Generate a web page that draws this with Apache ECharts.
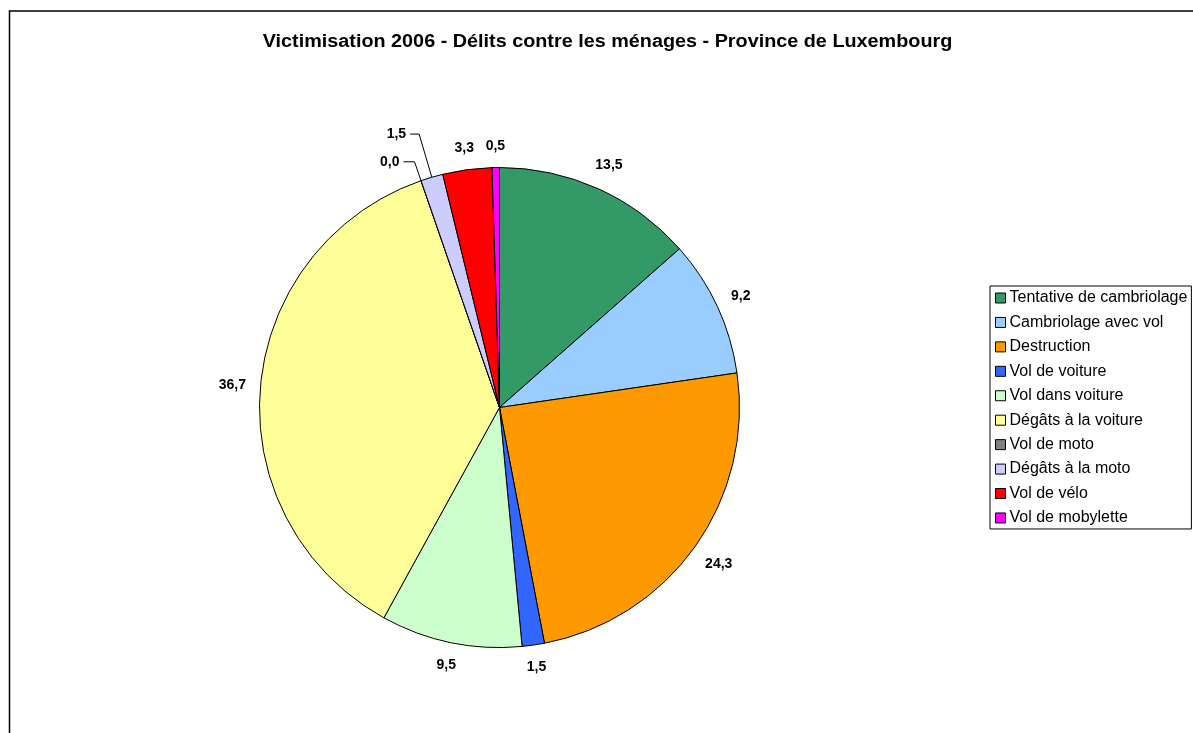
<!DOCTYPE html>
<html><head><meta charset="utf-8">
<script src="https://cdn.jsdelivr.net/npm/echarts@6/dist/echarts.min.js"></script>
<style>html,body{margin:0;padding:0;background:#fff}#c{width:1193px;height:733px}</style>
</head><body><div id="c"></div>
<script>
const chartTitle = 'Victimisation 2006 - Délits contre les ménages - Province de Luxembourg';
const categories = ['Tentative de cambriolage', 'Cambriolage avec vol', 'Destruction', 'Vol de voiture', 'Vol dans voiture', 'Dégâts à la voiture', 'Vol de moto', 'Dégâts à la moto', 'Vol de vélo', 'Vol de mobylette'];
const values = [13.5, 9.2, 24.3, 1.5, 9.5, 36.7, 0.0, 1.5, 3.3, 0.5];
const colors = ['#339966', '#99CCFF', '#FF9900', '#3366FF', '#CCFFCC', '#FFFF99', '#808080', '#CCCCFF', '#FF0000', '#FF00FF'];
// slices whose labels use a leader line: [index, length, length2]
const leaderLines = [[6, 20, 11], [7, 45, 9]];

const fmt = v => v.toFixed(1).replace('.', ',');
const leaderMap = {};
leaderLines.forEach(([i, l1, l2]) => { leaderMap[i] = [l1, l2]; });

const FONT = 'Liberation Sans, Arial, sans-serif';
const labelFont = { fontFamily: FONT, fontWeight: 'bold', fontSize: 14, color: '#000' };
const center = [499.5, 407.5];
const R = 240;
const GAP = 14;

const mainData = categories.map((name, i) => {
  const d = { name, value: values[i], itemStyle: { color: colors[i] } };
  if (leaderMap[i]) {
    d.label = { show: true };
    d.labelLine = { show: true, length: leaderMap[i][0], length2: leaderMap[i][1] };
  }
  return d;
});
const labelData = categories.map((name, i) => ({
  name, value: values[i],
  label: { show: !leaderMap[i] && values[i] > 0 }
}));

const chart = echarts.init(document.getElementById('c'), null, { renderer: 'canvas' });
chart.setOption({
  animation: false,
  backgroundColor: '#fff',
  color: colors,
  graphic: [{
    type: 'rect', silent: true, z: -10,
    shape: { x: 9.5, y: 11, width: 1400, height: 1000 },
    style: { fill: 'none', stroke: '#000', lineWidth: 1.5 }
  }, {
    type: 'text', silent: true, x: 607.5, y: 42, scaleX: 1.1,
    style: { text: chartTitle, align: 'center', verticalAlign: 'middle', fill: '#000', font: 'bold 18px ' + FONT }
  }],
  legend: {
    orient: 'vertical', left: 990, top: 286,
    padding: [3, 4, 2, 5],
    itemGap: 6.44, itemWidth: 10, itemHeight: 10,
    icon: 'rect',
    selectedMode: false,
    borderColor: '#000', borderWidth: 1, backgroundColor: '#fff',
    itemStyle: { borderColor: '#000', borderWidth: 1 },
    textStyle: { fontFamily: FONT, fontSize: 16, color: '#000', lineHeight: 18, padding: [0, 0, 0, -1] },
    data: categories
  },
  series: [{
    type: 'pie', name: 'main',
    center, radius: R, startAngle: 90, clockwise: true,
    avoidLabelOverlap: false, silent: true,
    itemStyle: { borderColor: '#000', borderWidth: 1 },
    label: Object.assign({ show: false, position: 'outside', distanceToLabelLine: 4, formatter: p => fmt(p.value) }, labelFont),
    labelLine: { show: false, lineStyle: { color: '#000', width: 1 }, smooth: false },
    emphasis: { disabled: true },
    data: mainData
  }, {
    type: 'pie', name: 'labels',
    center, radius: [0, 520], startAngle: 90, clockwise: true,
    avoidLabelOverlap: false, silent: true, z: 3,
    itemStyle: { color: 'rgba(0,0,0,0)', borderWidth: 0 },
    label: Object.assign({ position: 'inside', padding: [0, 3], formatter: p => fmt(p.value) }, labelFont),
    labelLine: { show: false },
    labelLayout: function (p) {
      const r = p.labelRect;
      const w = r.width, h = r.height;
      const lx = r.x + w / 2, ly = r.y + h / 2;
      const dx = lx - center[0], dy = ly - center[1];
      const d = Math.hypot(dx, dy) || 1;
      const ux = dx / d, uy = dy / d;
      const dist = R + GAP + (w / 2) * Math.abs(ux) + (h / 2) * Math.abs(uy);
      return { x: center[0] + ux * dist, y: center[1] + uy * dist, align: 'center', verticalAlign: 'middle' };
    },
    emphasis: { disabled: true },
    data: labelData
  }]
});
</script></body></html>
